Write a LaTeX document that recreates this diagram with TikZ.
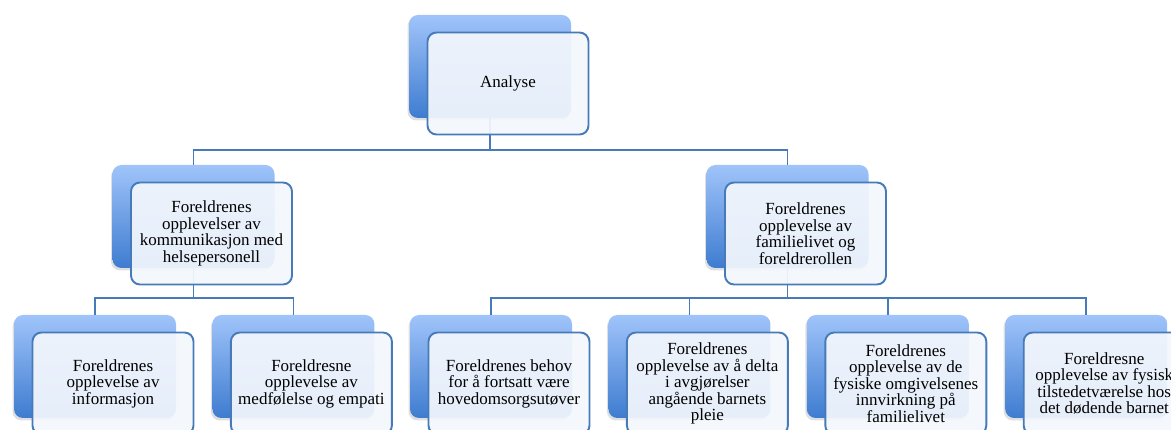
\documentclass[tikz,border=0pt]{standalone}
\usepackage{fontspec}
\setmainfont{Liberation Serif}
\usetikzlibrary{positioning,shadows}
\definecolor{boxtop}{RGB}{160,196,250}
\definecolor{boxbottom}{RGB}{62,124,208}
\definecolor{lineblue}{RGB}{70,122,185}
\definecolor{frontfill}{RGB}{243,247,253}

\begin{document}
\begin{tikzpicture}[x=1pt,y=-1pt,node distance=36pt]
 \tikzstyle{back}=[rectangle,rounded corners=9pt,minimum width=162pt,minimum height=103pt,inner sep=0pt,top color=boxtop,bottom color=boxbottom,drop shadow={shadow xshift=-1.5pt,shadow yshift=-2.5pt,opacity=0.25}]
 \tikzstyle{front}=[rectangle,rounded corners=9pt,draw=lineblue,line width=1.9pt,fill=frontfill,fill opacity=0.93,text opacity=1,minimum width=161pt,minimum height=102pt,inner sep=2pt,align=center,font=\fontsize{17}{16.5}\selectfont]
 \tikzstyle{conn}=[draw=lineblue,line width=1.8pt]

   \useasboundingbox (0,0) rectangle (1171,430);
   \clip (0,0) rectangle (1171,430);

   % bakre bokser
   \node[back] (ana) at (490,66.5) {};
   \node[back] (komm) at (193.5,216.5) {};
   \node[back] (fam) at (787.5,216.5) {};
   \node[back] (info) at (95,366.5) {};
   \node[back] (medf) [right=of info] {};
   \node[back] (behov) at (491,366.5) {};
   \node[back] (delta) [right=of behov] {};
   \node[back] (omgiv) [right=of delta] {};
   \node[back] (fysisk) [right=of omgiv] {};

   % linjer
   \coordinate (bus1) at (0,150);
   \coordinate (bus2) at (0,298);
   \draw[conn] (ana.south) -- (ana.south |- bus1) -| (komm.north);
   \draw[conn] (ana.south |- bus1) -| (fam.north);
   \draw[conn] (komm.south) -- (komm.south |- bus2) -| (info.north);
   \draw[conn] (komm.south |- bus2) -| (medf.north);
   \draw[conn] (fam.south) -- (fam.south |- bus2) -| (behov.north);
   \draw[conn] (fam.south |- bus2) -| (fysisk.north);
   \draw[conn] (delta.north) -- (delta.north |- bus2);
   \draw[conn] (omgiv.north) -- (omgiv.north |- bus2);

   % fremre bokser
   \node[front] (ana-t) at ([shift={(18pt,-17pt)}]ana) {Analyse};
   \node[front] (komm-t) at ([shift={(18pt,-17pt)}]komm) {Foreldrenes\\opplevelser av\\kommunikasjon med\\helsepersonell};
   \node[front] (fam-t) at ([shift={(18pt,-17pt)}]fam) {Foreldrenes\\opplevelse av\\familielivet og\\foreldrerollen};
   \node[front] (info-t) at ([shift={(18pt,-17pt)}]info) {Foreldrenes\\opplevelse av\\informasjon};
   \node[front] (medf-t) at ([shift={(18pt,-17pt)}]medf) {Foreldresne\\opplevelse av\\medfølelse og empati};
   \node[front] (behov-t) at ([shift={(18pt,-17pt)}]behov) {Foreldrenes behov\\for å fortsatt være\\hovedomsorgsutøver};
   \node[front] (delta-t) at ([shift={(18pt,-17pt)}]delta) {Foreldrenes\\opplevelse av å delta\\i avgjørelser\\angående barnets\\pleie};
   \node[front] (omgiv-t) at ([shift={(18pt,-17pt)}]omgiv) {Foreldrenes\\opplevelse av de\\fysiske omgivelsenes\\innvirkning på\\familielivet};
   \node[front] (fysisk-t) at ([shift={(18pt,-17pt)}]fysisk) {Foreldresne\\opplevelse av fysisk\\tilstedetværelse hos\\det dødende barnet};

\end{tikzpicture}
\end{document}
